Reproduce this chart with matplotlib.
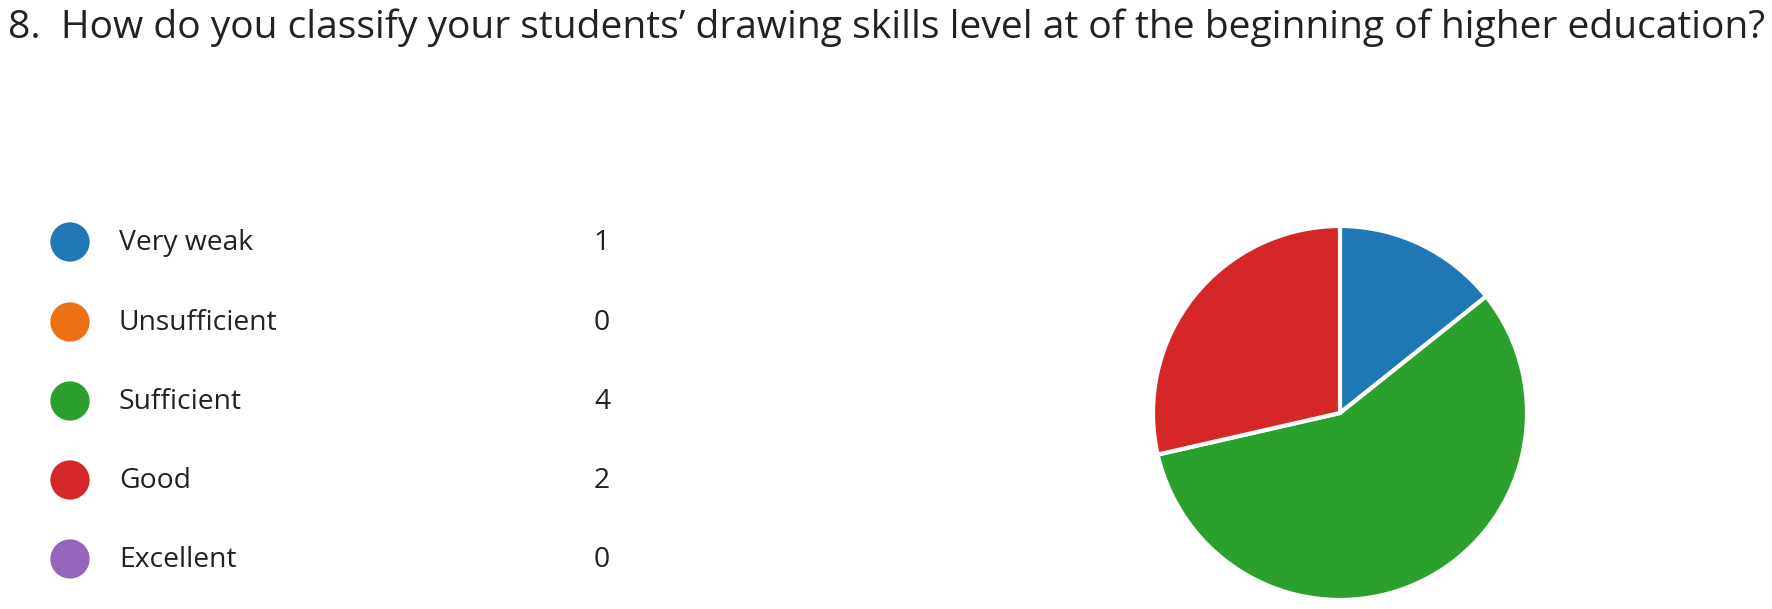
import matplotlib.pyplot as plt

categories = ["Very weak", "Unsufficient", "Sufficient", "Good", "Excellent"]
counts = [1, 0, 4, 2, 0]
colors = ["#1f77b4", "#ec7014", "#2ca02c", "#d62728", "#9467bd"]
title = "8.  How do you classify your students\u2019 drawing skills level at of the beginning of higher education?"

plt.rcParams['font.family'] = ['Open Sans', 'DejaVu Sans']

W, H = 1772, 609
fig = plt.figure(figsize=(W / 100, H / 100), dpi=100)

# overlay axes in pixel units for title + legend
lay = fig.add_axes([0, 0, 1, 1])
lay.set_xlim(0, W)
lay.set_ylim(H, 0)
lay.axis("off")

lay.text(8, 28, title, fontsize=28.1, color="#222222", va="center", ha="left")

row_y = [243, 323, 402, 481, 560]
for y, cat, n, c in zip(row_y, categories, counts, colors):
    lay.scatter([70], [y - 1], s=800, color=c, edgecolors="none")
    lay.text(119, y, cat, fontsize=20.3, color="#222222", va="center", ha="left")
    lay.text(602, y, str(n), fontsize=20.3, color="#222222", va="center", ha="center")

# pie
ax = fig.add_axes([1153 / W, 9 / H, 374 / W, 374 / H])
vals = [v for v in counts if v > 0]
cols = [c for v, c in zip(counts, colors) if v > 0]
ax.pie(vals, colors=cols, startangle=90, counterclock=False, radius=1,
       wedgeprops=dict(edgecolor="white", linewidth=3))
ax.set_xlim(-1, 1)
ax.set_ylim(-1, 1)

fig.savefig("out.png", dpi=100, facecolor="white")
